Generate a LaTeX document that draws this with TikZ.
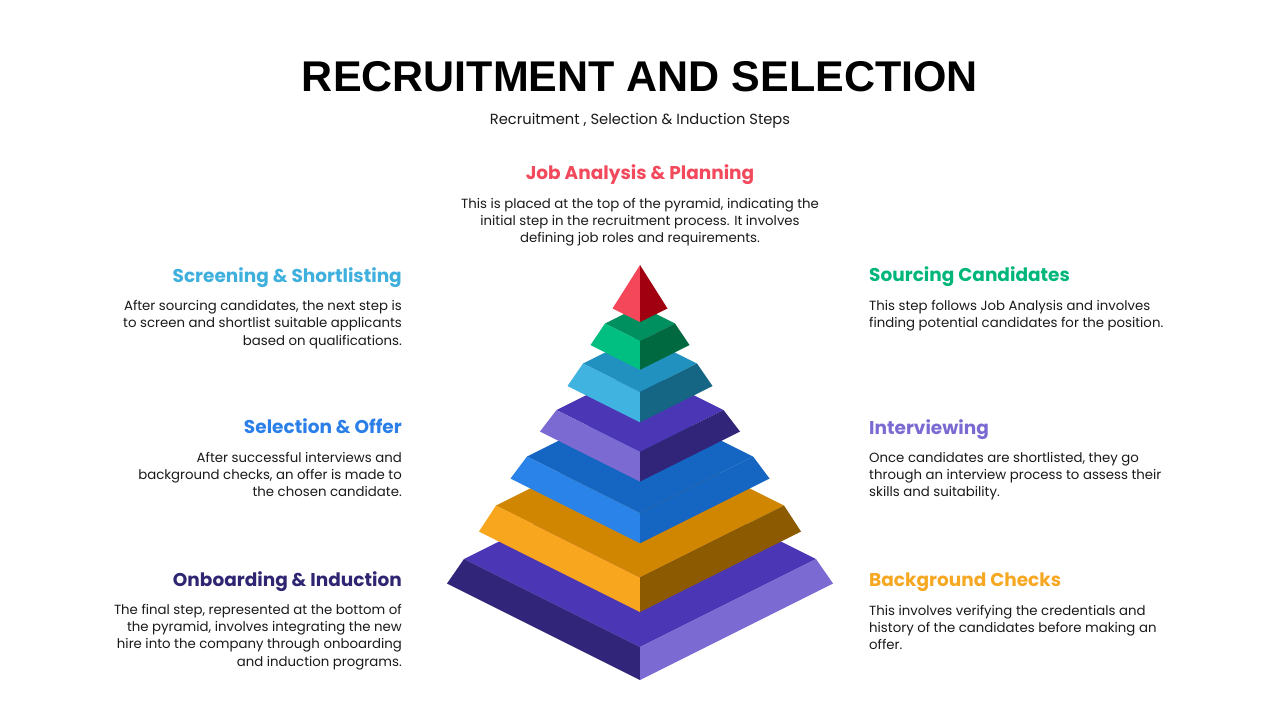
\documentclass[tikz,border=0pt]{standalone}
\usepackage{fontspec}
\setmainfont{Poppins}
\newfontfamily\titlefont{Liberation Sans}
\usetikzlibrary{calc}
\definecolor{jobred}{HTML}{F2495C}
\definecolor{redl}{HTML}{F5475A}
\definecolor{redd}{HTML}{A0000F}
\definecolor{srcgreen}{HTML}{00B67A}
\definecolor{greent}{HTML}{008F5E}
\definecolor{greenl}{HTML}{00BF80}
\definecolor{greend}{HTML}{00693F}
\definecolor{scrcyan}{HTML}{3FB0DE}
\definecolor{cyant}{HTML}{2191C0}
\definecolor{cyanl}{HTML}{40B3E0}
\definecolor{cyand}{HTML}{156585}
\definecolor{intpurple}{HTML}{7B6AD2}
\definecolor{purplet}{HTML}{4B36B6}
\definecolor{purplel}{HTML}{7B6AD2}
\definecolor{purpled}{HTML}{302578}
\definecolor{selblue}{HTML}{2A7FE8}
\definecolor{bluet}{HTML}{1565C2}
\definecolor{bluel}{HTML}{2A83E8}
\definecolor{bgorange}{HTML}{F7A823}
\definecolor{oranget}{HTML}{D08600}
\definecolor{orangel}{HTML}{F9A61F}
\definecolor{oranged}{HTML}{8C5A00}
\definecolor{onbnavy}{HTML}{2E2672}
\definecolor{bodytext}{HTML}{1A1A1A}
\tikzset{
  head/.style={inner sep=0pt, font=\bfseries\fontsize{18.5}{22}\selectfont},
  body/.style={inner sep=0pt, text=bodytext, font=\fontsize{13.3}{17.2}\selectfont},
}
% one tier: top half width, top y, bottom half width, bottom y; then top, left and right colours
\def\tier(#1,#2,#3,#4)#5#6#7{%
	\fill[#5] ({640-#1},#2) -- (640,{#2-#1/2}) -- ({640+#1},#2) -- (640,{#2+#1/2}) -- cycle;
	\fill[#6] ({640-#1},#2) -- (640,{#2+#1/2}) -- (640,{#4+#3/2}) -- ({640-#3},#4) -- cycle;
	\fill[#7] ({640+#1},#2) -- (640,{#2+#1/2}) -- (640,{#4+#3/2}) -- ({640+#3},#4) -- cycle;}

\begin{document}
\begin{tikzpicture}[x=1pt, y=-1pt]
			%%%%% START %%%%%
			\useasboundingbox[fill=white] (0, 0) rectangle (1280, 720);
			
			\node[inner sep=0pt, font=\titlefont\bfseries\fontsize{43}{43}\selectfont] (title) at (640, 76.5) {RECRUITMENT AND SELECTION};
			\node[inner sep=0pt, anchor=base, text=bodytext, font=\fontsize{14.7}{18}\selectfont] (subtitle) at (640, 124) {Recruitment , Selection \& Induction Steps};
			
			%%%%% PYRAMID %%%%%
			\tier(176, 559, 193, 583.5){purplet}{purpled}{purplel}
			\tier(144, 505.5, 161, 531.5){oranget}{orangel}{oranged}
			\tier(113, 456.5, 129.5, 478.5){bluet}{bluel}{bluet}
			\tier(83.5, 410, 100, 431.5){purplet}{purplel}{purpled}
			\tier(57, 363.5, 72.5, 386){cyant}{cyanl}{cyand}
			\tier(35, 323.5, 49.5, 345){greent}{greenl}{greend}
			
			\fill[redl] (640, 265) -- (612.5, 308.5) -- (640, 322) -- cycle;
			\fill[redd] (640, 265) -- (667.5, 308.5) -- (640, 322) -- cycle;
			
			%%%%% TEXTS %%%%%
			% the base of a text of several lines is its last line
			\node[head, anchor=base, text=jobred] (hJob) at (640, 179.5) {Job Analysis \& Planning};
			\node[body, anchor=base, align=center] (tJob) at (640, 242.7) {This is placed at the top of the pyramid, indicating the\\initial step in the recruitment process. It involves\\defining job roles and requirements.};
			
			\node[head, anchor=base east, text=scrcyan] (hScreen) at (402, 282) {Screening \& Shortlisting};
			\node[body, anchor=base east, align=right] (tScreen) at (402, 345.1) {After sourcing candidates, the next step is\\to screen and shortlist suitable applicants\\based on qualifications.};
			
			\node[head, anchor=base east, text=selblue] (hSelect) at (402, 433.5) {Selection \& Offer};
			\node[body, anchor=base east, align=right] (tSelect) at (402, 496.7) {After successful interviews and\\background checks, an offer is made to\\the chosen candidate.};
			
			\node[head, anchor=base east, text=onbnavy] (hOnboard) at (402, 586.7) {Onboarding \& Induction};
			\node[body, anchor=base east, align=right] (tOnboard) at (402, 666.1) {The final step, represented at the bottom of\\the pyramid, involves integrating the new\\hire into the company through onboarding\\and induction programs.};
			
			\node[head, anchor=base west, text=srcgreen] (hSource) at (869, 281.5) {Sourcing Candidates};
			\node[body, anchor=base west, align=left] (tSource) at (869, 327.5) {This step follows Job Analysis and involves\\finding potential candidates for the position.};
			
			\node[head, anchor=base west, text=intpurple] (hInterview) at (869, 434) {Interviewing};
			\node[body, anchor=base west, align=left] (tInterview) at (869, 496.4) {Once candidates are shortlisted, they go\\through an interview process to assess their\\skills and suitability.};
			
			\node[head, anchor=base west, text=bgorange] (hCheck) at (869, 586.3) {Background Checks};
			\node[body, anchor=base west, align=left] (tCheck) at (869, 649.4) {This involves verifying the credentials and\\history of the candidates before making an\\offer.};
			%%%%% END %%%%%
\end{tikzpicture}
\end{document}
